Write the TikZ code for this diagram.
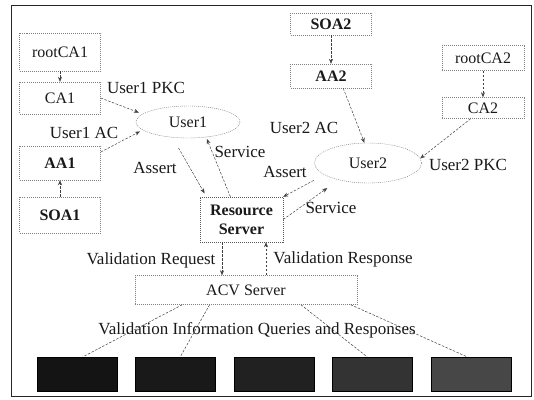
\documentclass[tikz,border=0pt]{standalone}
\usepackage{fontspec}
\setmainfont{Liberation Serif}
\usetikzlibrary{arrows.meta,calc,shapes.geometric}
\begin{document}
\begin{tikzpicture}[x=1pt,y=-1pt,
  every node/.style={font=\fontsize{16}{19}\selectfont, text=black!90},
  box/.style={draw=black!50, dash pattern=on 1pt off 1pt, thin, minimum width=81pt, inner sep=0pt},
  boldbox/.style={box, font=\fontsize{16}{19}\selectfont\bfseries},
  user/.style={ellipse, draw=black!55, dash pattern=on 1pt off 1pt, thin, inner sep=0pt},
  conn/.style={draw=black!75, dash pattern=on 2.5pt off 1.5pt, line width=0.5pt,
               -{Stealth[length=5pt,width=4pt]}},
  plain/.style={draw=black!75, dash pattern=on 2.5pt off 1.5pt, line width=0.5pt},
  lbl/.style={font=\fontsize{17}{19}\selectfont, inner sep=0pt},
  store/.style={draw=black, minimum width=80pt, minimum height=34pt, inner sep=0pt},
]
\useasboundingbox (0,0) rectangle (534,399);
\draw[black!85, line width=1pt] (11,5) rectangle (531,396);

% authorities of domain 1
\node[box, minimum height=38pt] (rootCA1) at (60,52) {rootCA1};
\node[box, minimum height=32pt] (CA1) at (60,98) {CA1};
\node[boldbox, minimum height=34pt] (AA1) at (60,163) {AA1};
\node[boldbox, minimum height=36pt] (SOA1) at (60,215) {SOA1};

% authorities of domain 2
\node[boldbox, minimum height=22pt] (SOA2) at (331,24) {SOA2};
\node[boldbox, minimum height=24pt] (AA2) at (331,76) {AA2};
\node[box, minimum height=25pt, minimum width=82pt] (rootCA2) at (483,58) {rootCA2};
\node[box, minimum height=21pt, minimum width=82pt] (CA2) at (483,108) {CA2};

% users
\node[user, minimum width=104pt, minimum height=32pt] (User1) at (188,122) {User1};
\node[user, minimum width=107pt, minimum height=40pt] (User2) at (368,163) {User2};

% servers
\node[boldbox, draw=black!65, minimum width=83pt, minimum height=45pt, align=center] (RS) at (241.5,219.5) {Resource\\Server};
\node[box, minimum width=222pt, minimum height=29pt] (ACV) at (246,290) {ACV Server};

% information stores
\node[store, fill=black!92] (D1) at (77,374) {};
\node[store, fill=black!90] (D2) at (175,374) {};
\node[store, fill=black!87] (D3) at (274,374) {};
\node[store, fill=black!80] (D4) at (372,374) {};
\node[store, fill=black!72] (D5) at (471,374) {};

% certificate chains
\draw[conn] (rootCA1) -- (CA1);
\draw[conn] (SOA1) -- (AA1);
\draw[conn] (SOA2) -- (AA2);
\draw[conn] (rootCA2) -- (CA2);

% credentials handed to the users
\draw[conn, shorten >=4pt] (CA1.east) -- (User1.170);
\draw[conn, shorten >=3pt] (AA1.15) -- (User1.190);
\draw[conn] (AA2.-45) -- (User2.100);
\draw[conn] (CA2.-139) -- (User2.5);

% users and resource server
\draw[conn, shorten <=12pt, shorten >=4pt] (User1.225) -- (RS.147);
\draw[conn, shorten >=2pt] (RS.116) -- (User1.-40);
\draw[conn, shorten <=12pt] (User2.195) -- (RS.north east);
\draw[conn, shorten >=14pt] (RS.east) -- (User2.210);

% validation
\coordinate (vq) at (222,0);
\coordinate (vs) at (266,0);
\draw[conn] (RS.south -| vq) -- (ACV.north -| vq);
\draw[conn] (ACV.north -| vs) -- (RS.south -| vs);

% queries to the stores
\draw[plain] (ACV.-167.6) -- (D1.71);
\draw[plain] (ACV.-158.1) -- (D2.73.6);
\draw[plain] (ACV.-15.9) -- (D4.106.4);
\draw[plain] (ACV.-8.7) -- (D5.103.2);

% labels
\node[lbl] (l1) at (146,88) {User1 PKC};
\node[lbl] (l2) at (84,133) {User1 AC};
\node[lbl] (l3) at (155,168) {Assert};
\node[lbl] (l4) at (240,152) {Service};
\node[lbl] (l5) at (285,172) {Assert};
\node[lbl] (l6) at (331,208) {Service};
\node[lbl] (l7) at (304,128) {User2 AC};
\node[lbl] (l8) at (468,165) {User2 PKC};
\node[lbl] (l9) at (151,260) {Validation Request};
\node[lbl] (l10) at (343,259) {Validation Response};
\node[lbl] (l11) at (257,330) {Validation Information Queries and Responses};
\end{tikzpicture}
\end{document}
